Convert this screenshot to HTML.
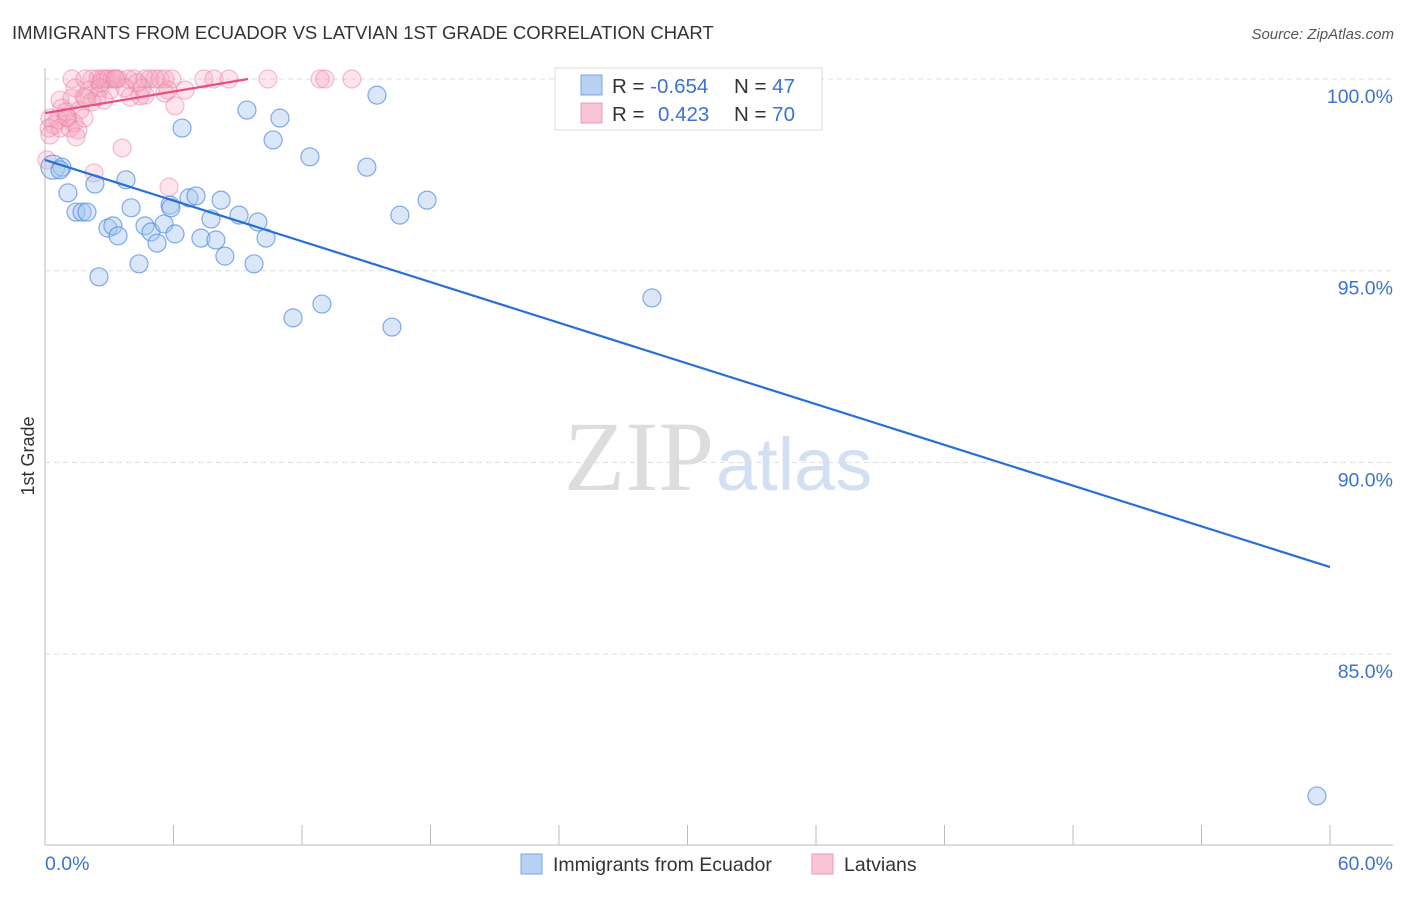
<!DOCTYPE html>
<html><head><meta charset="utf-8"><style>
body{margin:0;background:#fff;font-family:"Liberation Sans",sans-serif}
svg text{font-family:"Liberation Sans",sans-serif}
</style></head><body>
<svg id="chart" width="1406" height="892" xmlns="http://www.w3.org/2000/svg">
<text x="12" y="39" font-size="18.5" fill="#333">IMMIGRANTS FROM ECUADOR VS LATVIAN 1ST GRADE CORRELATION CHART</text>
<text x="1394" y="39" font-size="15" fill="#555" font-style="italic" text-anchor="end">Source: ZipAtlas.com</text>
<text x="714" y="490" font-size="100" fill="#ddd" text-anchor="end" style="font-family:'Liberation Serif',serif">ZIP</text>
<text x="716" y="490" font-size="74" fill="#d3e0f3">atlas</text>
<g id="grid"></g>
<g id="axes"></g>
<g id="pts"></g>
<g id="lines"></g>
<text x="34" y="456" font-size="18" fill="#333" text-anchor="middle" transform="rotate(-90 34 456)">1st Grade</text>
<text x="45" y="870" font-size="19.5" fill="#3b73d1">0.0%</text>
<text x="1393" y="870" font-size="19.5" fill="#3b73d1" text-anchor="end">60.0%</text>
<g>
<rect x="555" y="68" width="267" height="62" fill="#fff" stroke="#ddd"/>
<rect x="581" y="75" width="21" height="20" fill="#b7d1f4" stroke="#7ba4e3"/>
<rect x="581" y="103" width="21" height="20" fill="#f8c5d4" stroke="#ec9cb6"/>
<text x="612" y="93" font-size="20.5" fill="#333">R = <tspan fill="#3b73d1">-0.654</tspan><tspan x="734">N = </tspan><tspan fill="#3b73d1">47</tspan></text>
<text x="612" y="121" font-size="20.5" fill="#333">R = <tspan fill="#3b73d1" x="658">0.423</tspan><tspan x="734">N = </tspan><tspan fill="#3b73d1">70</tspan></text>
</g>
<g>
<rect x="521" y="854" width="21" height="20" fill="#b7d1f4" stroke="#7ba4e3"/>
<text x="553" y="871" font-size="19.5" fill="#333">Immigrants from Ecuador</text>
<rect x="812" y="854" width="21" height="20" fill="#f8c5d4" stroke="#ec9cb6"/>
<text x="844" y="871" font-size="19.5" fill="#333">Latvians</text>
</g>
</svg>
<script>
const yTicks=[100,95,90,85];
const xTicks=[0,6,12,18,24,30,36,42,48,54,60];
const blueX=[0.37,0.79,0.70,1.07,1.45,1.73,1.96,2.33,2.52,2.94,3.17,3.41,3.78,4.02,4.39,4.67,4.95,5.23,5.56,5.84,5.88,6.07,6.40,6.72,7.05,7.28,7.75,7.98,8.22,8.40,9.06,9.43,9.76,9.94,10.32,10.65,10.97,11.58,12.37,12.93,15.03,15.50,16.20,16.57,17.84,28.34,59.39];
const blueY=[97.70,97.70,97.63,97.03,96.53,96.53,96.53,97.26,94.84,96.11,96.17,95.91,97.37,96.64,95.18,96.17,96.01,95.72,96.22,96.71,96.64,95.96,98.72,96.90,96.95,95.85,96.35,95.80,96.84,95.38,96.45,99.19,95.18,96.27,95.85,98.41,98.98,93.77,97.97,94.13,97.70,99.58,93.53,96.45,96.84,94.29,81.30];
const pinkX=[1.26,1.87,2.19,2.47,2.66,2.80,2.94,3.13,3.27,3.41,3.88,4.16,4.67,4.90,5.14,5.37,5.60,5.93,7.42,7.89,8.59,10.41,12.84,13.07,14.33,
1.40,2.05,2.57,3.03,3.74,4.53,5.74,6.54,
0.70,1.26,1.82,2.43,2.75,3.97,4.67,5.60,4.44,
0.79,0.98,1.63,2.19,6.07,
0.23,0.61,1.07,1.35,1.82,0.19,0.42,0.70,1.17,1.54,0.23,1.45,3.60,2.29,5.79,0.09,
1.0,2.6,3.3,4.3,1.9];
const pinkY=[100,100,100,100,100,100,100,100,100,100,100,100,100,100,100,100,100,100,100,100,100,100,100,100,100,
99.77,99.71,99.77,99.71,99.77,99.77,99.71,99.71,
99.45,99.50,99.53,99.53,99.45,99.53,99.58,99.63,99.56,
99.24,99.14,99.19,99.40,99.30,
98.98,98.93,98.98,98.85,98.98,98.72,98.80,98.72,98.72,98.67,98.54,98.49,98.20,97.55,97.18,97.89,
99.0,99.9,100,99.9,99.5];
const blueFit=[97.89,87.27]; const blueFitX=[0,60];
const pinkFit=[99.11,100]; const pinkFitX=[0,9.48];
const X0=45,X1=1330,Y100=79,PX5=191.7;
const sx=v=>X0+(v/60)*(X1-X0);
const sy=v=>Y100+(100-v)/5*PX5;
const NS='http://www.w3.org/2000/svg';
function mk(t,a,p){const e=document.createElementNS(NS,t);for(const k in a)e.setAttribute(k,a[k]);p.appendChild(e);return e;}
const grid=document.getElementById('grid'),axes=document.getElementById('axes'),pts=document.getElementById('pts'),lines=document.getElementById('lines');
yTicks.forEach(v=>{
 const l=mk('line',{x1:X0,x2:1393,y1:sy(v),y2:sy(v),stroke:'#ddd','stroke-dasharray':'5,4'},grid);
 
 
 const t=mk('text',{x:1393,y:sy(v)+24,'font-size':19.5,fill:'#3b73d1','text-anchor':'end'},grid);
 t.textContent=v.toFixed(1)+'%';
 
 
});
let a=mk('line',{x1:X0,x2:X0,y1:68,y2:845,stroke:'#bbb'},axes);


a=mk('line',{x1:X0,x2:1393,y1:845,y2:845,stroke:'#bbb'},axes);


xTicks.forEach(v=>{
 const l=mk('line',{x1:sx(v),x2:sx(v),y1:825,y2:845,stroke:'#bbb'},axes);
 
 
});
pinkX.forEach((v,i)=>{
 const c=mk('circle',{cx:sx(v),cy:sy(pinkY[i]),r:9,fill:'rgba(244,160,188,0.28)',stroke:'rgba(236,130,165,0.5)','stroke-width':1.2},pts);
 
 
});
blueX.forEach((v,i)=>{
 const c=mk('circle',{cx:sx(v),cy:sy(blueY[i]),r:i===0?12:9,fill:'rgba(165,198,240,0.42)',stroke:'rgba(80,138,222,0.7)','stroke-width':1.2},pts);
 
 
});
let f=mk('line',{x1:sx(blueFitX[0]),y1:sy(blueFit[0]),x2:sx(blueFitX[1]),y2:sy(blueFit[1]),stroke:'#2a6fd6','stroke-width':2.2},lines);


f=mk('line',{x1:sx(pinkFitX[0]),y1:sy(pinkFit[0]),x2:sx(pinkFitX[1]),y2:sy(pinkFit[1]),stroke:'#e8517f','stroke-width':2.2},lines);


</script>
</body></html>
